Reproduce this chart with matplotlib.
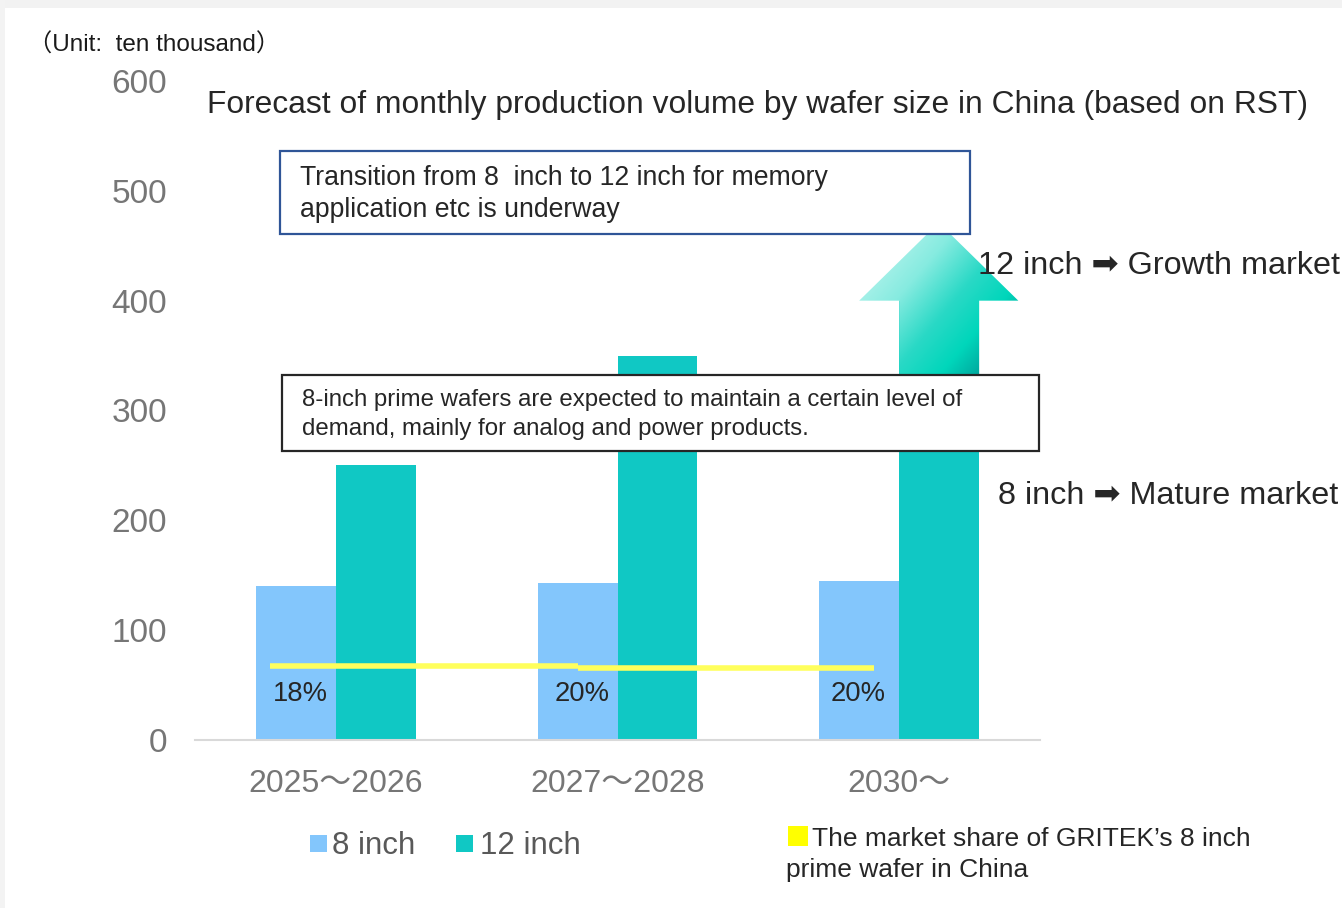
import numpy as np
import matplotlib
matplotlib.use("Agg")
import matplotlib.pyplot as plt
from matplotlib.patches import Rectangle, Polygon
from matplotlib.colors import LinearSegmentedColormap

plt.rcParams['font.family'] = ['Liberation Sans', 'Noto Sans CJK JP', 'DejaVu Sans']

# ---------------- data ----------------
categories = ['2025～2026', '2027～2028', '2030～']
inch8 = [140, 143, 145]
inch12 = [250, 350, 400]
share_labels = ['18%', '20%', '20%']
share_line_x = [-0.235, 0.86, 1.91]
share_line_y = [67.5, 65.8]
yticks = [0, 100, 200, 300, 400, 500, 600]

W, H = 1342, 908
fig = plt.figure(figsize=(W / 100, H / 100), dpi=100)
fig.patch.set_facecolor('white')

def fx(x):
    return x / W

def fy(y):
    return 1 - y / H

# light gray frame edge (shadow)
fig.add_artist(Rectangle((0, fy(8)), 1, 8 / H, transform=fig.transFigure,
                         facecolor='#f2f2f2', edgecolor='none', zorder=0))
fig.add_artist(Rectangle((0, 0), 5 / W, 1, transform=fig.transFigure,
                         facecolor='#f3f3f3', edgecolor='none', zorder=0))

ax = fig.add_axes([fx(195), fy(740), fx(1040) - fx(195), fy(81) - fy(740)])
ax.set_facecolor('none')

x = np.arange(len(categories))
bw = 0.284
c8 = '#83C6FC'
c12 = '#10C8C4'
ax.bar(x - bw / 2, inch8, width=bw, color=c8, edgecolor='none', zorder=2)
ax.bar(x + bw / 2, inch12, width=bw, color=c12, edgecolor='none', zorder=2)

ax.set_xlim(-0.5, 2.5)
ax.set_ylim(0, 600)
ax.set_yticks(yticks)
ax.set_yticklabels([str(v) for v in yticks], fontsize=24, color='#767676')
ax.set_xticks(x)
ax.set_xticklabels(categories, fontsize=23, color='#767676')
ax.tick_params(axis='both', length=0)
ax.tick_params(axis='y', pad=20)
ax.tick_params(axis='x', pad=21)
for s in ['top', 'right', 'left']:
    ax.spines[s].set_visible(False)
ax.spines['bottom'].set_color('#d9d9d9')
ax.spines['bottom'].set_linewidth(1.5)

# yellow share line (step)
ax.hlines(share_line_y[0], share_line_x[0], share_line_x[1], color='#FFFF5C', lw=4, zorder=3)
ax.hlines(share_line_y[1], share_line_x[1], share_line_x[2], color='#FFFF5C', lw=4, zorder=3)

for i, lab in enumerate(share_labels):
    offs = [-0.125, -0.125, -0.145][i]
    ax.text(x[i] + offs, 42, lab, fontsize=19.7, color='#262626', ha='center', va='center', zorder=4)

# gradient arrow on top of last 12-inch bar
i3 = 2
sx0, sx1 = x[i3], x[i3] + bw
hx0, hx1 = 1.858, 2.423
ybase = inch12[i3]
yapex = 471
ybot = 330
poly = Polygon([(sx0, ybot), (sx1, ybot), (sx1, ybase), (hx1, ybase),
                ((hx0 + hx1) / 2, yapex), (hx0, ybase), (sx0, ybase)],
               closed=True, facecolor='none', edgecolor='none', transform=ax.transData)
ax.add_patch(poly)
cmap = LinearSegmentedColormap.from_list('arr', [(0, '#d6f9f5'), (0.35, '#86ebe0'),
                                                  (0.55, '#2ad9c6'), (0.72, '#00d6bb'),
                                                  (1.0, '#00777f')])
gx = np.linspace(0, 1, 200)
gy = np.linspace(0, 1, 200)
GX, GY = np.meshgrid(gx, gy)
grad = (GX * 0.55 + GY * 0.45)
im = ax.imshow(grad, cmap=cmap, extent=[hx0, hx1, ybot, yapex], origin='upper',
               aspect='auto', zorder=5, interpolation='bilinear', vmin=0, vmax=1)
im.set_clip_path(poly)
ax.set_xlim(-0.5, 2.5)
ax.set_ylim(0, 600)

# title and unit
fig.text(fx(207), fy(105), 'Forecast of monthly production volume by wafer size in China (based on RST)',
         fontsize=22.9, color='#262626', ha='left', va='center')
fig.text(fx(28), fy(45), '（Unit:  ten thousand）', fontsize=17.5, color='#1a1a1a',
         ha='left', va='center')

# annotation boxes
fig.add_artist(Rectangle((fx(280), fy(234)), fx(970) - fx(280), fy(151) - fy(234),
                         transform=fig.transFigure, facecolor='white', edgecolor='#2F5597',
                         lw=1.6, zorder=10))
fig.text(fx(300), fy(178), 'Transition from 8  inch to 12 inch for memory', fontsize=19.2,
         color='#262626', ha='left', va='center', zorder=11)
fig.text(fx(300), fy(210), 'application etc is underway', fontsize=19.2,
         color='#262626', ha='left', va='center', zorder=11)

fig.add_artist(Rectangle((fx(282), fy(451)), fx(1039) - fx(282), fy(375) - fy(451),
                         transform=fig.transFigure, facecolor='white', edgecolor='#262626',
                         lw=1.6, zorder=10))
fig.text(fx(302), fy(400), '8-inch prime wafers are expected to maintain a certain level of',
         fontsize=17.3, color='#262626', ha='left', va='center', zorder=11)
fig.text(fx(302), fy(429), 'demand, mainly for analog and power products.',
         fontsize=17.3, color='#262626', ha='left', va='center', zorder=11)

# right side texts
fig.text(fx(978), fy(266), '12 inch ➡ Growth market', fontsize=23.3, color='#262626',
         ha='left', va='center', zorder=12,
         family=['Liberation Sans', 'DejaVu Sans'])
fig.text(fx(998), fy(496), '8 inch ➡ Mature market', fontsize=23.3, color='#262626',
         ha='left', va='center', zorder=12,
         family=['Liberation Sans', 'DejaVu Sans'])

# legend
fig.add_artist(Rectangle((fx(310), fy(852)), 17 / W, 17 / H, transform=fig.transFigure,
                         facecolor=c8, edgecolor='none'))
fig.text(fx(332), fy(846), '8 inch', fontsize=22.5, color='#595959', ha='left', va='center')
fig.add_artist(Rectangle((fx(456), fy(852)), 17 / W, 17 / H, transform=fig.transFigure,
                         facecolor=c12, edgecolor='none'))
fig.text(fx(480), fy(846), '12 inch', fontsize=22.5, color='#595959', ha='left', va='center')

fig.add_artist(Rectangle((fx(788), fy(846)), 20 / W, 20 / H, transform=fig.transFigure,
                         facecolor='#FFFF00', edgecolor='none'))
fig.text(fx(812), fy(839), 'The market share of GRITEK’s 8 inch', fontsize=19,
         color='#262626', ha='left', va='center')
fig.text(fx(786), fy(870), 'prime wafer in China', fontsize=19,
         color='#262626', ha='left', va='center')

fig.savefig('out.png', dpi=100, facecolor='white')
